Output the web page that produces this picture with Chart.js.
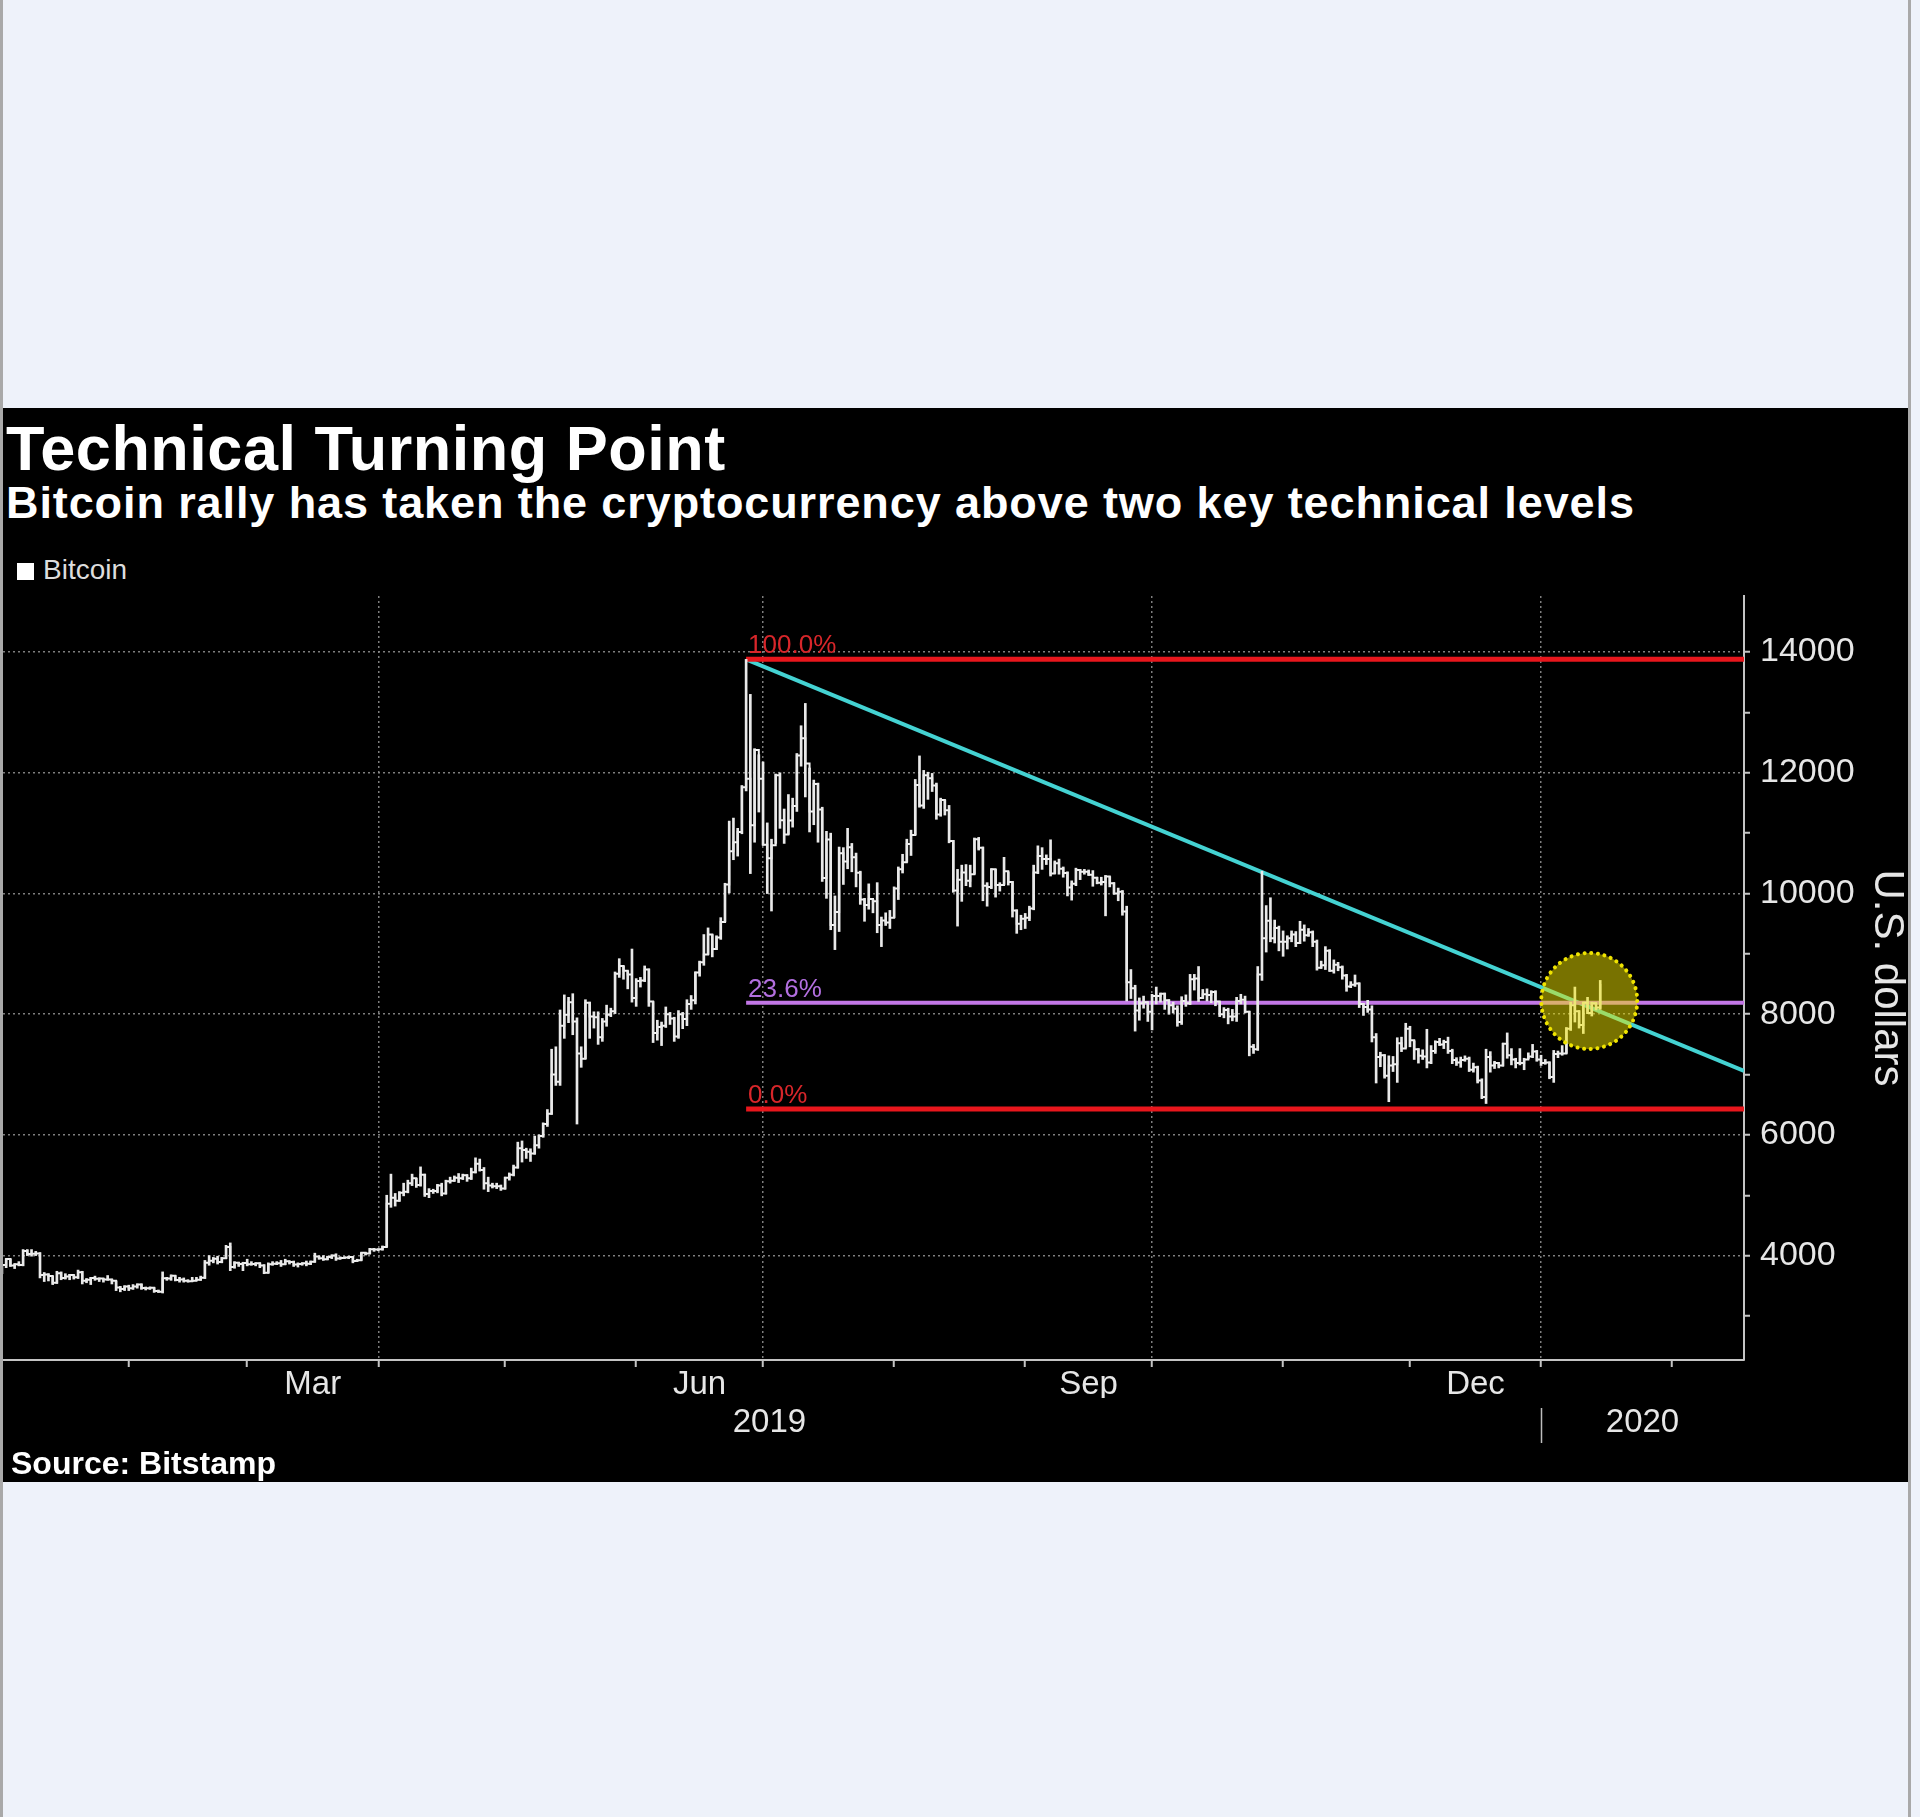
<!DOCTYPE html>
<html>
<head>
<meta charset="utf-8">
<title>Technical Turning Point</title>
<script src="https://cdn.jsdelivr.net/npm/chart.js@4.4.1/dist/chart.umd.min.js"></script>
<style>
  html, body { margin: 0; padding: 0; }
  body {
    width: 1920px; height: 1817px; position: relative; overflow: hidden;
    background: #eef2fa;
    font-family: "Liberation Sans", Arial, sans-serif;
  }
  .edge { position: absolute; top: 0; width: 3px; height: 1817px; background: #a9a9a9; }
  #panel { position: absolute; left: 3px; top: 408px; width: 1905px; height: 1074px; background: #000; }
  #title { position: absolute; left: 3px; top: 4px; color: #fff; font-weight: bold; font-size: 63px; letter-spacing: 0.5px; white-space: nowrap; }
  #subtitle { position: absolute; left: 3px; top: 69px; color: #fff; font-weight: bold; font-size: 45px; letter-spacing: 0.9px; white-space: nowrap; }
  #legend { position: absolute; left: 14px; top: 146px; color: #ddd; font-size: 28px; white-space: nowrap; }
  #legend i { display: inline-block; width: 17px; height: 17px; background: #fff; margin-right: 9px; vertical-align: -1px; }
  #source { position: absolute; left: 8px; top: 1037px; color: #fff; font-weight: bold; font-size: 32px; white-space: nowrap; }
  #chart { position: absolute; left: 0; top: 172px; }
</style>
</head>
<body>
<div class="edge" style="left:0"></div>
<div class="edge" style="left:1908px"></div>
<div id="panel">
  <div id="title">Technical Turning Point</div>
  <div id="subtitle">Bitcoin rally has taken the cryptocurrency above two key technical levels</div>
  <div id="legend"><i></i>Bitcoin</div>
  <canvas id="chart" width="1905" height="880"></canvas>
  <div id="source">Source: Bitstamp</div>
</div>
<script>
// Bitstamp daily bars, 1 Jan 2019 .. 14 Jan 2020 (one row per month)
const closes = [
  3843,3944,3837,3858,3846,4077,4026,4031,4035,3678,3688,3661,3552,3706,3630,3655,3679,3640,3725,3583,3600,3630,3617,3620,3602,3605,3583,3470,3448,3486,3458,
  3487,3521,3464,3459,3466,3414,3401,3625,3619,3667,3596,3604,3585,3574,3584,3600,3631,3881,3915,3948,3894,3957,4142,3811,3880,3862,3877,3856,
  3862,3873,3836,3716,3857,3864,3875,3856,3905,3895,3853,3861,3873,3864,3899,3987,3957,3941,3977,4000,3951,3959,3970,3976,3912,3924,4048,4034,4106,4103,4106,
  4143,4860,4960,4910,5040,5060,5200,5280,5170,5340,5020,5070,5070,5160,5030,5230,5240,5290,5280,5330,5280,5380,5520,5420,5200,5160,5150,5150,5110,5290,
  5340,5460,5780,5750,5720,5690,5830,5980,6180,6350,7000,6880,7810,7990,8200,7880,7350,7260,8190,7960,7950,7620,7880,7990,8050,8670,8800,8720,8660,8270,8550,
  8560,8740,8210,7690,7790,7810,8000,7930,7630,8000,7920,8170,8230,8690,8860,8990,9320,9080,9270,9530,10150,10700,10850,11020,11760,11900,11130,12380,11900,10810,
  10583,10801,11961,11216,10978,11209,11450,12285,12573,12156,11358,11815,11393,10256,10896,9477,9694,10666,10530,10767,10599,10344,9900,9811,9911,9871,9478,9552,9519,9597,10085,
  10400,10520,10820,10970,11800,11460,11960,11910,11790,11310,11550,11380,10870,10050,10230,10350,10210,10320,10900,10760,10130,10110,10400,10140,10140,10370,10190,9720,9500,9580,9600,
  9750,10350,10620,10570,10570,10330,10500,10410,10340,10100,10160,10390,10360,10360,10310,10260,10180,10190,10280,10170,10000,10030,9700,8530,8430,8060,8180,8200,8040,8300,
  8300,8340,8230,8150,8090,7870,8220,8180,8580,8590,8270,8330,8320,8370,8210,8000,8070,7960,7960,8220,8240,8040,7460,7420,8660,9260,9550,9260,9430,9200,9200,
  9260,9320,9180,9400,9310,9360,9200,8770,8810,9050,8720,8820,8780,8640,8460,8490,8510,8170,8120,8080,7620,7290,7320,6980,7150,7170,7520,7430,7760,7570,
  7420,7310,7300,7200,7390,7540,7500,7540,7390,7240,7200,7240,7260,7080,7120,6900,6630,7290,7150,7190,7150,7510,7320,7250,7190,7190,7250,7300,7380,7250,7190,
  7200,6960,7340,7350,7350,7760,8150,8050,7820,8190,8020,8180,8110,8500
];
const highs = [
  3850,3950,3945,3865,3900,4100,4100,4100,4070,4050,3720,3700,3660,3740,3730,3700,3690,3680,3760,3740,3620,3640,3660,3630,3620,3670,3610,3580,3490,3500,3510,
  3520,3530,3530,3480,3480,3470,3430,3730,3640,3680,3670,3640,3630,3600,3640,3640,3660,3920,4000,3970,3990,3970,4170,4210,3900,3890,3890,3940,
  3900,3880,3880,3850,3880,3900,3900,3920,3940,3910,3910,3880,3880,3910,3910,4040,3990,4000,3990,4010,4030,3980,3980,3990,3980,3940,4050,4050,4120,4120,4110,
  4160,5000,5350,5030,5060,5200,5250,5350,5280,5470,5350,5110,5100,5180,5200,5250,5300,5320,5360,5350,5340,5450,5620,5600,5460,5300,5200,5200,5170,5300,
  5370,5500,5880,5900,5780,5770,5980,6000,6200,6420,7420,7460,8070,8320,8280,8340,7940,7460,8240,8200,8040,8040,7930,8150,8100,8700,8920,8800,8720,9080,8590,
  8610,8800,8750,8210,7900,7870,8120,8030,7950,8060,8030,8240,8310,8700,8880,9320,9430,9320,9300,9600,10170,11200,11250,11080,11790,13880,13300,12400,12300,12180,
  11170,10900,11980,12000,11400,11640,11580,12320,12780,13150,12080,11880,11830,11430,11030,11000,9960,10770,10760,11080,10830,10670,10370,9920,10160,9900,10180,9610,9680,9720,10110,
  10440,10650,10900,11050,11890,12280,12040,12010,11990,11830,11580,11550,11460,10880,10400,10470,10480,10470,10920,10930,10770,10180,10410,10400,10180,10600,10360,10200,9730,9640,9670,
  9790,10470,10790,10760,10640,10890,10540,10570,10440,10360,10210,10420,10400,10400,10390,10380,10270,10270,10300,10280,10180,10090,10050,9790,8740,8480,8270,8300,8200,8330,
  8450,8350,8350,8240,8200,8140,8290,8320,8660,8660,8790,8410,8420,8390,8390,8210,8110,8100,8080,8280,8330,8300,8050,7500,8790,10370,9800,9930,9560,9460,9380,
  9300,9380,9370,9540,9480,9420,9380,9230,8880,9120,9070,8900,8860,8800,8660,8540,8650,8520,8180,8230,8140,7680,7370,7330,7310,7300,7610,7620,7850,7800,
  7560,7430,7410,7750,7480,7560,7600,7570,7620,7420,7280,7290,7310,7290,7190,7140,6930,7420,7380,7220,7200,7520,7690,7430,7270,7430,7270,7360,7500,7400,7320,
  7250,7210,7400,7390,7480,7780,8200,8450,8060,8200,8280,8200,8190,8560
];
const lows = [
  3700,3800,3820,3785,3830,3830,4000,3990,4000,3630,3570,3580,3520,3540,3600,3610,3600,3610,3620,3530,3550,3520,3590,3570,3560,3590,3530,3420,3400,3420,3420,
  3440,3460,3440,3430,3440,3390,3390,3380,3590,3590,3580,3560,3560,3560,3570,3590,3590,3620,3840,3880,3860,3880,3950,3750,3790,3820,3750,3830,
  3840,3830,3800,3700,3710,3840,3850,3820,3850,3860,3820,3810,3840,3830,3850,3890,3940,3920,3930,3950,3920,3940,3950,3950,3880,3900,3920,4010,4030,4070,4080,
  4090,4140,4800,4820,4900,4990,5040,5160,5130,5150,4980,4960,5030,5040,4990,5020,5200,5230,5210,5260,5230,5260,5370,5400,5100,5060,5120,5110,5080,5100,
  5250,5320,5450,5550,5610,5560,5680,5780,5960,6140,6340,6820,6820,7600,7860,7660,6180,7120,7260,7600,7770,7500,7550,7800,7960,8010,8610,8580,8420,8200,8130,
  8450,8540,8130,7530,7570,7480,7780,7830,7550,7600,7760,7810,8080,8170,8630,8810,8990,8950,9070,9240,9530,10010,10560,10620,10990,11700,10330,10850,11350,10800,
  10000,9710,10830,11080,10830,10980,11100,11360,12110,11600,11020,11140,10850,10200,9920,9400,9070,9370,10150,10410,10360,10110,9820,9540,9740,9680,9350,9120,9470,9420,9600,
  9900,10340,10520,10630,10970,11430,11410,11560,11690,11230,11280,11300,10840,10020,9460,9870,10130,10110,10320,10720,9880,9790,10080,9940,10040,10150,10140,9610,9340,9400,9420,
  9550,9730,10330,10400,10480,10290,10330,10320,10270,9960,9890,10130,10230,10320,10300,10120,10160,10140,9630,10110,9990,9880,9640,8220,8260,7720,7900,8100,7880,7740,
  8170,8200,8080,8000,8020,7800,7830,8130,8160,8400,8210,8260,8220,8190,8140,7960,7940,7840,7890,7880,8170,8020,7310,7350,7400,8560,9030,9200,9180,9050,8960,
  9080,9200,9120,9170,9210,9290,9120,8730,8760,8740,8710,8680,8720,8580,8380,8440,8460,8110,7980,8030,7540,6860,7130,6940,6550,7050,6870,7380,7440,7460,
  7250,7190,7250,7110,7180,7350,7480,7430,7350,7180,7150,7120,7220,7050,7040,6860,6600,6520,7040,7100,7110,7140,7270,7160,7110,7160,7080,7260,7280,7220,7150,
  7170,6930,6870,7280,7320,7350,7730,7870,7770,7680,8010,7970,8070,8080
];

// x axis is "days since 1 Jan 2019"; a daily bar sits at the end of its day
const firstDay = 1;
const xMin = 1.25, xMax = 413;
const monthStarts = [31, 59, 90, 120, 151, 181, 212, 243, 273, 304, 334, 365, 396];
const quarterStarts = [90, 181, 273, 365];
const monthLabels = ['Mar', 'Jun', 'Sep', 'Dec'];
const monthLabelDays = [74.5, 166, 258, 349.5];
const yearLabels = ['2019', '2020'];
const yearLabelDays = [182.5, 389];
const yearBreak = 365;
const yMin = 2270, yMax = 14930;
const yTicks = [3000, 4000, 5000, 6000, 7000, 8000, 9000, 10000, 11000, 12000, 13000, 14000];

// technical levels
const peakDay = 177;
const levelLabels = ['100.0%', '23.6%', '0.0%'];
const levelValues = [13880, 8188, 6430];
const trendLine = [{x: 177, y: 13880}, {x: 413, y: 7060}];
const highlight = {x: 376.4, y: 8220};

const FONT = '"Liberation Sans", Arial, sans-serif';
Chart.defaults.font.family = FONT;
const gridColor = 'rgba(140,140,140,0.9)';
const axisColor = '#c4c4c4';
const textColor = '#e6e6e6';
const levelColors = ['#e8161c', '#c277e6', '#e8161c'];
const labelColors = ['#d8262a', '#b36fe0', '#d8262a'];

const closeData = closes.map((v, i) => ({x: firstDay + i, y: v}));
const rangeData = highs.map((h, i) => ({x: firstDay + i, y: [lows[i], h]}));

const levelDatasets = levelValues.map((v, i) => ({
  label: levelLabels[i],
  data: [{x: peakDay, y: v}, {x: xMax, y: v}],
  borderColor: levelColors[i],
  borderWidth: i === 1 ? 4 : 5,
  pointRadius: 0,
  order: 2
}));

const overlay = {
  id: 'overlay',
  afterDatasetsDraw(chart) {
    const {ctx, scales: {x, y}} = chart;
    ctx.save();
    ctx.font = '26px ' + FONT;
    ctx.textBaseline = 'alphabetic';
    levelLabels.forEach((t, i) => {
      ctx.fillStyle = labelColors[i];
      ctx.fillText(t, x.getPixelForValue(peakDay) + 2, y.getPixelForValue(levelValues[i]) - 6);
    });
    const cx = x.getPixelForValue(highlight.x), cy = y.getPixelForValue(highlight.y);
    ctx.beginPath();
    ctx.arc(cx, cy, 48, 0, Math.PI * 2);
    ctx.fillStyle = 'rgba(240,228,0,0.5)';
    ctx.fill();
    ctx.setLineDash([0.1, 6.6]);
    ctx.lineCap = 'round';
    ctx.lineWidth = 4;
    ctx.strokeStyle = '#efe300';
    ctx.stroke();
    ctx.restore();
  },
  afterDraw(chart) {
    // small divider between the year labels
    const s = chart.scales.xYear;
    const px = Math.round(s.getPixelForValue(yearBreak)) + 0.5;
    const ctx = chart.ctx;
    ctx.save();
    ctx.strokeStyle = '#bdbdbd';
    ctx.lineWidth = 1.5;
    ctx.beginPath();
    ctx.moveTo(px, s.top + 10);
    ctx.lineTo(px, s.top + 45);
    ctx.stroke();
    ctx.restore();
  }
};

const noPad = s => { s.paddingLeft = 0; s.paddingRight = 0; s.paddingTop = 0; s.paddingBottom = 0; };

const labelAxis = (weight, days, labels, height, pad) => ({
  type: 'linear', position: 'bottom', min: xMin, max: xMax, weight: weight, offset: false,
  afterBuildTicks: s => { s.ticks = days.map(v => ({value: v})); },
  afterFit: s => { s.height = height; noPad(s); },
  ticks: {
    autoSkip: false, maxRotation: 0, padding: pad, color: textColor,
    font: {size: 33, lineHeight: 1},
    callback: (v, i) => labels[i]
  },
  grid: {display: false, drawTicks: false, offset: false},
  border: {display: false}
});

new Chart(document.getElementById('chart'), {
  type: 'line',
  data: {
    datasets: [
      {
        type: 'bar', label: 'Bitcoin range', data: rangeData,
        backgroundColor: '#e9e9e9', borderWidth: 0, barThickness: 2, order: 1
      },
      {
        label: 'Bitcoin', data: closeData,
        borderColor: '#f4f4f4', borderWidth: 2, pointRadius: 0, stepped: true, order: 1
      },
      ...levelDatasets,
      {
        label: 'Trend', data: trendLine,
        borderColor: '#44d2d2', borderWidth: 4, pointRadius: 0, order: 2
      }
    ]
  },
  options: {
    responsive: false,
    animation: false,
    layout: {padding: {top: 16, left: 0, right: 0, bottom: 0}},
    plugins: {legend: {display: false}, tooltip: {enabled: false}},
    scales: {
      x: {
        type: 'linear', position: 'bottom', min: xMin, max: xMax, weight: 0, offset: false,
        afterBuildTicks: s => { s.ticks = monthStarts.map(v => ({value: v})); },
        afterFit: s => { s.height = 8; noPad(s); },
        ticks: {autoSkip: false, maxRotation: 0, callback: () => ''},
        grid: {
          offset: false,
          color: c => (c.tick && quarterStarts.includes(c.tick.value)) ? gridColor : 'transparent',
          lineWidth: 1.5, tickColor: axisColor, tickLength: 7, tickWidth: 2
        },
        border: {color: axisColor, width: 2, dash: [2, 3]}
      },
      xMonth: labelAxis(1, monthLabelDays, monthLabels, 30, 0),
      xYear: labelAxis(2, yearLabelDays, yearLabels, 62, 8.5),
      y: {
        type: 'linear', position: 'right', min: yMin, max: yMax,
        afterBuildTicks: s => { s.ticks = yTicks.map(v => ({value: v})); },
        afterFit: s => { s.width = 164; noPad(s); },
        ticks: {
          autoSkip: false, padding: 10, color: textColor, font: {size: 34},
          callback: v => (v % 2000 === 0 ? String(v) : '')
        },
        grid: {
          color: c => (c.tick && c.tick.value % 2000 === 0) ? gridColor : 'transparent',
          lineWidth: 1.5, tickColor: axisColor, tickLength: 6, tickWidth: 2
        },
        border: {color: axisColor, width: 2, dash: [2, 3]},
        title: {
          display: true, text: 'U.S. dollars', color: textColor,
          font: {size: 42, lineHeight: 1}, padding: {top: 0, bottom: 0}
        }
      }
    }
  },
  plugins: [overlay]
});
</script>
</body>
</html>
